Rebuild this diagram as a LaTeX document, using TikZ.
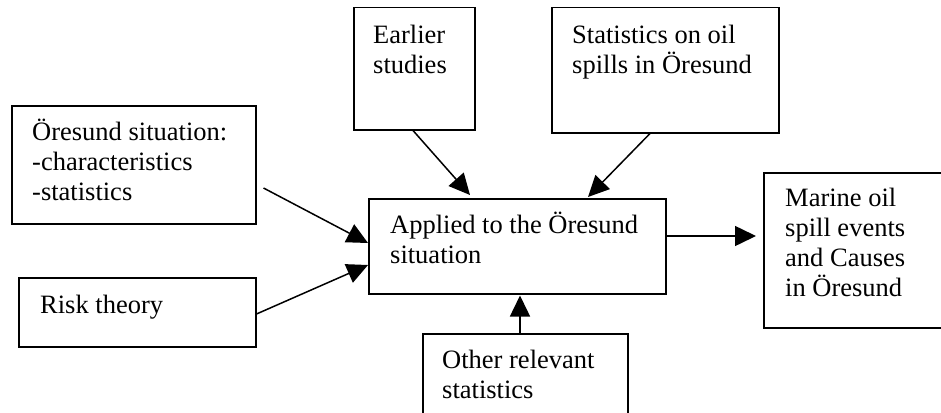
\documentclass[tikz,border=0pt]{standalone}
\usepackage{fontspec}
\setmainfont{Liberation Serif}
\usetikzlibrary{arrows.meta,calc}
\begin{document}
\begin{tikzpicture}[x=1pt,y=-1pt,
  box/.style={draw=black,line width=1.5pt,rectangle,inner sep=0pt,anchor=north west},
  txt/.style={inner sep=0pt,anchor=north west,align=left,
    font=\fontsize{26.5}{30}\selectfont},
  arr/.style={line width=1.5pt,-{Triangle[length=21pt,width=20pt]}}]
\useasboundingbox (0,0) rectangle (941,412);
\clip (0,0) rectangle (941,412);
% frames
\node[box,minimum width=121pt,minimum height=122pt] (earlier) at (353,7) {};
\node[box,minimum width=227pt,minimum height=125pt] (stats) at (551,7) {};
\node[box,minimum width=244pt,minimum height=118pt] (oresund) at (11,105) {};
\node[box,minimum width=297pt,minimum height=95pt] (applied) at (368,198) {};
\node[box,minimum width=237pt,minimum height=69pt] (risk) at (18,277) {};
\node[box,minimum width=205pt,minimum height=100pt] (other) at (422,333) {};
\node[box,minimum width=190pt,minimum height=155pt] (marine) at (763,172) {};
% labels (25pt strut keeps the first baseline at a fixed depth)
\node[txt] (tearlier) at (373,18) {\rule{0pt}{25pt}Earlier\\studies};
\node[txt] (tstats) at (572,18) {\rule{0pt}{25pt}Statistics on oil\\spills in Öresund};
\node[txt] (toresund) at (32,115) {\rule{0pt}{25pt}Öresund situation:\\-characteristics\\-statistics};
\node[txt] (tapplied) at (390,208) {\rule{0pt}{25pt}Applied to the Öresund\\situation};
\node[txt] (trisk) at (40,288) {\rule{0pt}{25pt}Risk theory};
\node[txt] (tother) at (442,343) {\rule{0pt}{25pt}Other relevant\\statistics};
\node[txt] (tmarine) at (785,181) {\rule{0pt}{25pt}Marine oil\\spill events\\and Causes\\in Öresund};
% connectors
\draw[arr] ($(earlier.south west)+(60,0)$) -- ($(applied.north west)+(102,-3)$);
\draw[arr] ($(stats.south west)+(99,0)$) -- ($(applied.north west)+(220,-1)$);
\draw[arr] ($(oresund.north east)+(7,83)$) -- ($(applied.north west)+(0,45)$);
\draw[arr] ($(risk.north east)+(0,37)$) -- ($(applied.north west)+(0,67)$);
\draw[arr] ($(applied.north east)+(0,38)$) -- ($(marine.north west)+(-7,64)$);
\draw[arr] ($(other.north west)+(98,0)$) -- ($(applied.south west)+(152,1)$);
\end{tikzpicture}
\end{document}
